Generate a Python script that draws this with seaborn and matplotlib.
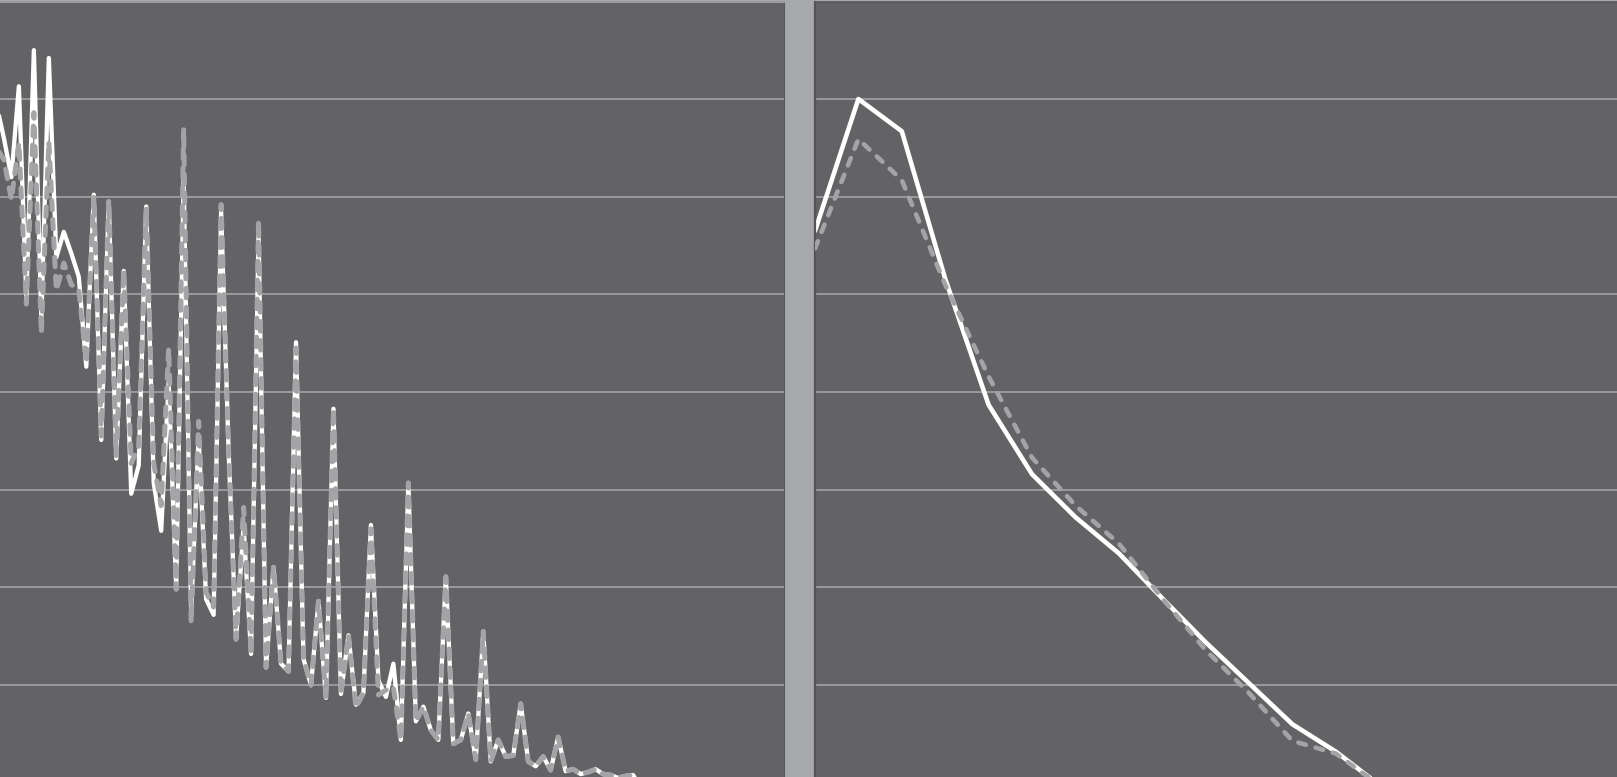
import matplotlib
matplotlib.use("Agg")
import matplotlib.pyplot as plt
import numpy as np
import pandas as pd
import seaborn as sns

# left panel: one value per sample (index 0 sits just off the left edge)
left_white = [6.95, 6.6, 6.2, 7.13, 4.95, 7.5, 4.75, 7.42, 5.38, 5.64,
              5.42, 5.18, 4.26, 6.02, 3.51, 5.95, 3.32, 5.24, 2.96, 3.25,
              5.9, 3.07, 2.58, 4.1, 2.0, 6.2, 1.75, 3.55, 1.88, 1.72,
              5.85, 3.4, 1.47, 2.64, 1.32, 5.63, 1.18, 2.21, 1.22, 1.14,
              4.51, 1.27, 1.0, 1.86, 0.87, 3.83, 0.91, 1.51, 0.8, 0.92,
              2.64, 1.05, 0.88, 1.22, 0.44, 3.07, 0.63, 0.78, 0.54, 0.44,
              2.11, 0.40, 0.44, 0.71, 0.24, 1.55, 0.22, 0.44, 0.27, 0.28,
              0.81, 0.22, 0.17, 0.27, 0.13, 0.47, 0.12, 0.14, 0.09, 0.11,
              0.14, 0.09, 0.08, 0.05, 0.07, 0.08, -0.05, -0.1, -0.15]
left_dashed = [6.5, 6.38, 5.97, 6.55, 4.9, 6.86, 4.6, 6.56, 5.04, 5.32,
               5.1, 5.05, 4.3, 6.0, 3.55, 5.97, 3.35, 5.25, 3.27, 3.45,
               5.89, 3.27, 2.84, 4.45, 1.98, 6.7, 1.64, 3.7, 1.95, 1.8,
               5.92, 3.4, 1.47, 2.82, 1.32, 5.76, 1.18, 2.21, 1.22, 1.14,
               4.45, 1.27, 1.0, 1.86, 0.87, 3.83, 0.91, 1.51, 0.77, 0.92,
               2.6, 0.9, 0.95, 0.98, 0.44, 3.07, 0.63, 0.78, 0.54, 0.44,
               2.11, 0.40, 0.44, 0.71, 0.24, 1.55, 0.22, 0.44, 0.27, 0.28,
               0.81, 0.22, 0.17, 0.27, 0.13, 0.47, 0.12, 0.14, 0.09, 0.11,
               0.14, 0.09, 0.08, 0.05, 0.07, 0.08, -0.05, -0.1, -0.15]

# right panel
right_white = [5.65, 7.0, 6.67, 5.16, 3.87, 3.16, 2.72, 2.35, 1.89, 1.44,
               1.02, 0.60, 0.32, -0.02, -0.3]
right_dashed = [5.47, 6.59, 6.17, 5.10, 4.16, 3.33, 2.84, 2.45, 1.89, 1.36,
                0.92, 0.43, 0.30, -0.02, -0.3]

grid_levels = [1, 2, 3, 4, 5, 6, 7]

PANEL = "#636366"
BAR = "#a7a8ab"
GRID = "#a9a9ab"
DASH = "#a4a4a6"
DASHES = (0, (1.9, 1.9))

sns.set_style("white")
fig = plt.figure(figsize=(16.17, 7.77), dpi=100, facecolor=BAR)

W, H = 1617, 777
ax_l = fig.add_axes([0, 0, 784 / W, 775 / H])
ax_r = fig.add_axes([815 / W, 0, 802 / W, 775 / H])

left = pd.DataFrame({"i": np.arange(len(left_white)),
                     "white": left_white, "dashed": left_dashed})
right = pd.DataFrame({"k": np.arange(len(right_white)),
                      "white": right_white, "dashed": right_dashed})

for ax in (ax_l, ax_r):
    ax.set_facecolor(PANEL)
    ax.set_axisbelow(True)
    for g in grid_levels:
        ax.axhline(g, color=GRID, lw=1.1, zorder=0.5)
    ax.set_ylim(0.06, 7.993)
    ax.set_xticks([])
    for s in ax.spines.values():
        s.set_visible(False)

sns.lineplot(data=left, x="i", y="white", ax=ax_l, color="white", lw=3.1,
             zorder=2)
sns.lineplot(data=left, x="i", y="dashed", ax=ax_l, color=DASH, lw=3.6,
             linestyle=DASHES, dash_capstyle="round", zorder=3)
ax_l.set_xlim(0.48, 105.15)
ax_l.set_yticks([])
ax_l.set_xlabel("")
ax_l.set_ylabel("")
ax_l.spines["top"].set_visible(True)
ax_l.spines["top"].set_color("#9c9c9e")
ax_l.spines["top"].set_linewidth(1.5)
ax_l.spines["right"].set_visible(True)
ax_l.spines["right"].set_color("#5a5a5c")
ax_l.spines["right"].set_linewidth(0.8)

sns.lineplot(data=right, x="k", y="white", ax=ax_r, color="white", lw=3.3,
             zorder=2)
sns.lineplot(data=right, x="k", y="dashed", ax=ax_r, color=DASH, lw=3.3,
             linestyle=(0, (1.7, 2.2)), dash_capstyle="round", zorder=3)
ax_r.set_xlim(0, 18.48)
ax_r.set_yticks(grid_levels)
ax_r.tick_params(axis="y", direction="out", length=6, width=1.4,
                 color="#545456", labelleft=False)
ax_r.set_xlabel("")
ax_r.set_ylabel("")
ax_r.spines["left"].set_visible(True)
ax_r.spines["left"].set_color("#545456")
ax_r.spines["left"].set_linewidth(1.6)
ax_r.spines["top"].set_visible(True)
ax_r.spines["top"].set_color("#58585a")
ax_r.spines["top"].set_linewidth(1.2)

fig.savefig("out.png", dpi=100, facecolor=BAR)
